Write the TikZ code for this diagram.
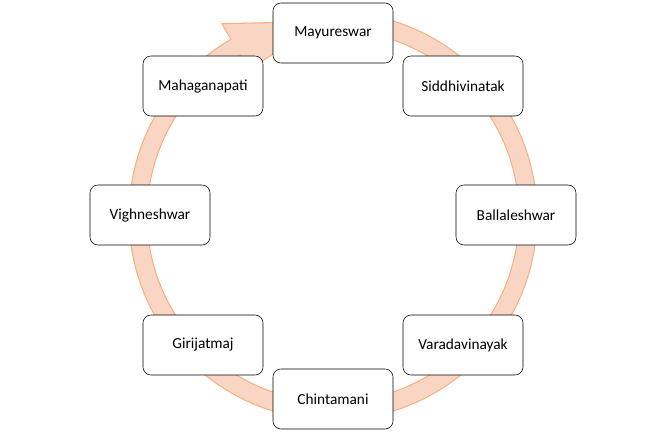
\documentclass[tikz,border=0pt]{standalone}
\usepackage{fontspec}
\setmainfont{Carlito}
\begin{document}
\begin{tikzpicture}[x=0.75pt,y=-0.75pt,
  box/.style={draw=black,fill=white,rounded corners=6pt,minimum width=90pt,minimum height=45pt,font=\fontsize{11.5}{13}\selectfont},
  ring/.style={fill=ringfill,draw=ringline,line width=0.8pt}]
\definecolor{ringfill}{HTML}{F9D6C4}
\definecolor{ringline}{HTML}{F4B183}
\useasboundingbox (0,0) rectangle (666,433);
\begin{scope}[shift={(333,216)},yscale=-1]
\path[ring] (90:204) arc[start angle=90,end angle=-240,radius=204]
  -- (-240:222) -- (-266:195) -- (-240:168) -- (-240:186)
  arc[start angle=-240,end angle=90,radius=186] -- cycle;
\end{scope}
\node[box] (m) at (333,33) {Mayureswar};
\node[box] (s) at (463,86) {Siddhivinatak};
\node[box] (b) at (516,215) {Ballaleshwar};
\node[box] (v) at (463,345) {Varadavinayak};
\node[box] (c) at (333,399) {Chintamani};
\node[box] (g) at (203,345) {Girijatmaj};
\node[box] (vi) at (150,215) {Vighneshwar};
\node[box] (mg) at (203,86) {Mahaganapati};
\end{tikzpicture}
\end{document}
